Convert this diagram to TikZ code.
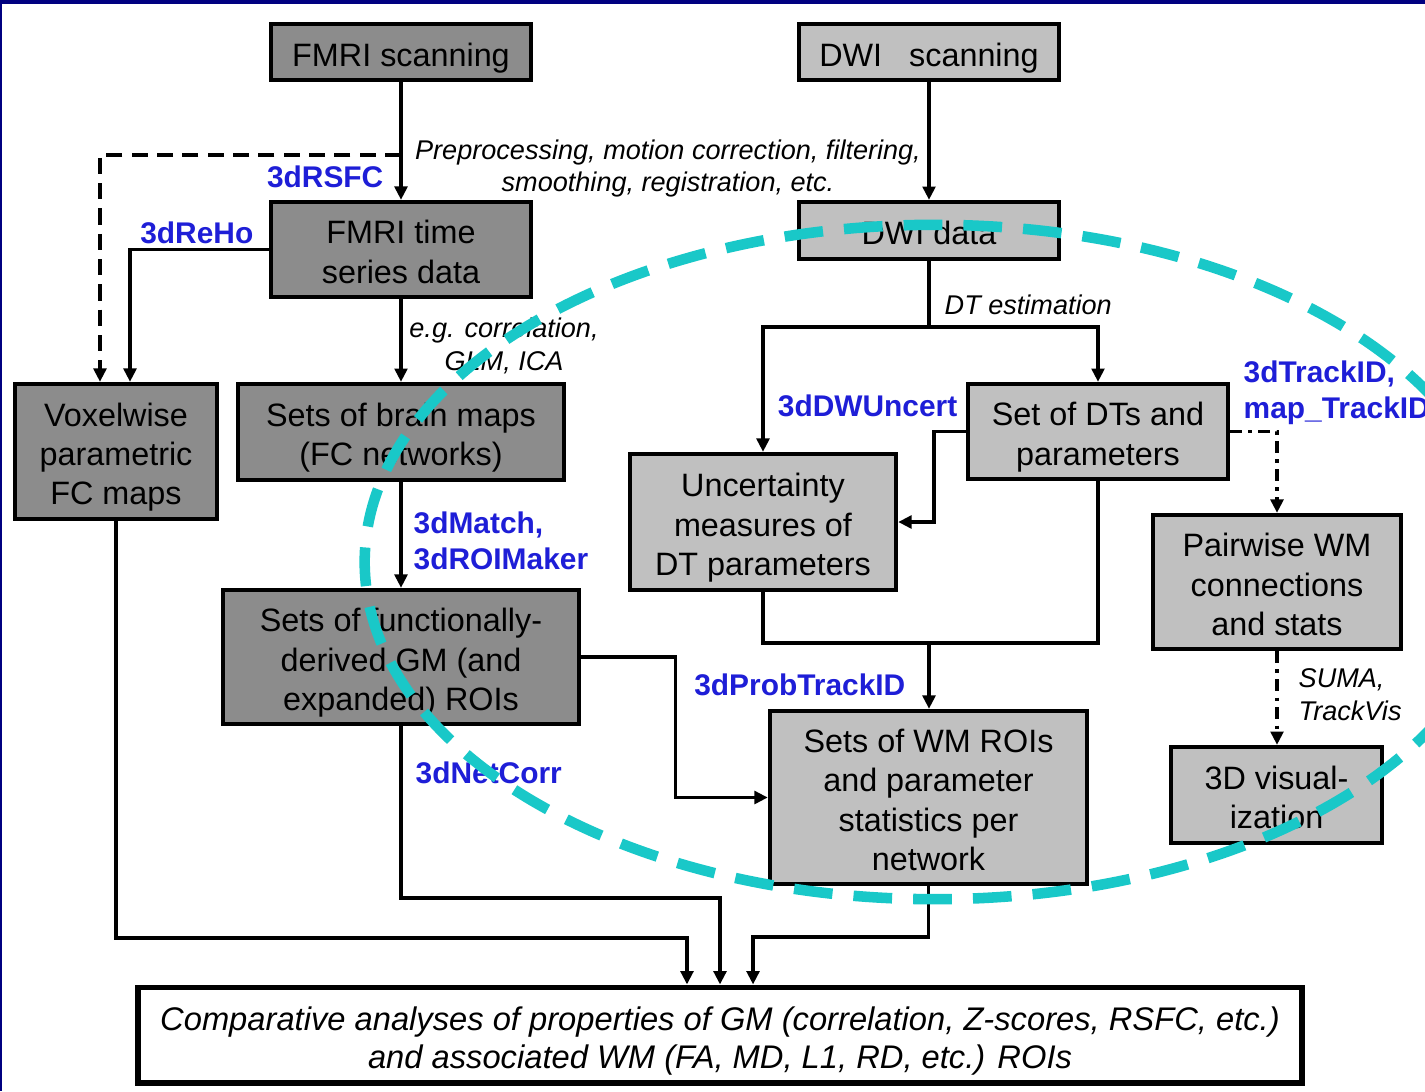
\documentclass[tikz,border=0pt]{standalone}
\usepackage{fontspec}
\setmainfont{Liberation Sans}
\usetikzlibrary{arrows.meta,positioning,calc}

\definecolor{fmrigray}{RGB}{140,140,140}
\definecolor{dwigray}{RGB}{192,192,192}
\definecolor{toolblue}{RGB}{30,30,215}
\definecolor{ellcyan}{RGB}{25,200,200}
\definecolor{framenavy}{RGB}{0,0,128}

\begin{document}
\begin{tikzpicture}[
  x=0.01cm, y=-0.01cm,
  font=\fontsize{9.2}{11.1}\selectfont,
  boxtext/.style={inner sep=0pt, align=center, text depth=0pt,
    execute at begin node={\lower1.3pt\hbox\bgroup},
    execute at end node={\egroup}},
  fbox/.style={draw, line width=1.2pt, fill=fmrigray, boxtext},
  dbox/.style={draw, line width=1.2pt, fill=dwigray, boxtext},
  arr/.style={-{Triangle[length=3.8pt,width=3.6pt]}, line width=0.95pt},
  ln/.style={line width=0.95pt},
  dashline/.style={dash pattern=on 4.6pt off 2.6pt},
  dashdot/.style={dash pattern=on 3.4pt off 1.8pt on 1pt off 1.8pt},
  tool/.style={text=toolblue, font=\fontsize{8.5}{10.2}\selectfont\bfseries, inner sep=0pt, align=left},
  note/.style={font=\fontsize{7.7}{9.2}\selectfont\itshape, inner sep=0pt, align=center}
]
\useasboundingbox (0,0) rectangle (1425,1091);
\fill[white] (0,0) rectangle (1425,1091);
\fill[framenavy] (0,0) rectangle (1425,4);
\fill[framenavy] (0,0) rectangle (2,1091);

% FMRI side
\node[fbox, minimum width=2.6cm, minimum height=0.56cm] (fmriscan) at (401,52) {FMRI scanning};
\node[fbox, minimum width=2.6cm, minimum height=0.95cm] (fmrits) at (401,249.5) {FMRI time\\series data};
\node[fbox, minimum width=2.02cm, minimum height=1.35cm] (voxel) at (116,451.5) {Voxelwise\\parametric\\FC maps};
\node[fbox, minimum width=3.26cm, minimum height=0.96cm] (brainmaps) at (401,432) {Sets of brain maps\\(FC networks)};
\node[fbox, minimum width=3.56cm, minimum height=1.34cm] (gmrois) at (401,657) {Sets of functionally-\\derived GM (and\\expanded) ROIs};

% DWI side
\node[dbox, minimum width=2.6cm, minimum height=0.56cm] (dwiscan) at (929,52) {DWI~~~scanning};
\node[dbox, minimum width=2.6cm, minimum height=0.57cm] (dwidata) at (929,230.5) {DWI data};
\node[dbox, minimum width=2.6cm, minimum height=0.95cm] (dts) at (1098,431.5) {Set of DTs and\\parameters};
\node[dbox, minimum width=2.66cm, minimum height=1.36cm] (uncert) at (763,522) {Uncertainty\\measures of\\DT parameters};
\node[dbox, minimum width=2.48cm, minimum height=1.34cm] (pairwise) at (1277,582) {Pairwise WM\\connections\\and stats};
\node[dbox, minimum width=3.17cm, minimum height=1.73cm] (wmrois) at (928.5,797.5) {Sets of WM ROIs\\and parameter\\statistics per\\network};
\node[dbox, minimum width=2.11cm, minimum height=0.96cm] (vis3d) at (1276.5,795) {3D visual-\\ization};

% final analysis
\node[draw, line width=1.7pt, fill=white, boxtext,
  minimum width=11.63cm, minimum height=0.95cm,
  font=\fontsize{9.3}{10.8}\selectfont\itshape] (compare) at (720,1035)
  {Comparative analyses of properties of GM (correlation, Z-scores, RSFC, etc.)\\and associated WM (FA, MD, L1, RD, etc.) ROIs};

% labels
\node[tool, anchor=east] (rsfc) at (384,177) {3dRSFC};
\node[tool, anchor=east] (reho) at (254,233) {3dReHo};
\node[note] (prep) at (668,168.5) {Preprocessing, motion correction, filtering,\\smoothing, registration, etc.};
\node[note] (corr) at (504,346) {e.g. correlation,\\GLM, ICA};
\node[tool, anchor=west] (match) at (413,540.5) {3dMatch,\\3dROIMaker};
\node[note, anchor=west] (dtest) at (944,305) {DT estimation};
\node[tool, anchor=east] (dwunc) at (958,406) {3dDWUncert};
\node[tool, anchor=west] (track) at (1243,392.5) {3dTrackID,\\map\_TrackID};
\node[tool, anchor=east] (prob) at (906,685) {3dProbTrackID};
\node[note, anchor=west, align=left] (suma) at (1298,694.5) {SUMA,\\TrackVis};
\node[tool, anchor=west] (netcorr) at (415,773) {3dNetCorr};

% FMRI connections
\coordinate (rsfcpt) at (401,155);
\draw[arr] (fmriscan) -- (fmrits);
\draw[arr, dashline] (rsfcpt) -| ([xshift=-0.16cm]voxel.north);
\draw[arr] (fmrits.west) -| ([xshift=0.14cm]voxel.north);
\draw[arr] (fmrits) -- (brainmaps);
\draw[arr] (brainmaps) -- (gmrois);
\draw[arr] (gmrois.east) -- ++(94,0) |- (wmrois.west);

% DWI connections
\coordinate (dtsplit) at (929,327);
\coordinate (probjoin) at (929,643);
\draw[arr] (dwiscan) -- (dwidata);
\draw[arr] (dwidata.south) -- (dtsplit) -| (uncert.north);
\draw[arr] (dtsplit) -| (dts.north);
\draw[arr] (dts.west) -- ++(-32,0) |- (uncert.east);
\draw[ln] (uncert.south) |- (dts.south |- probjoin) -- (dts.south);
\draw[arr] (probjoin) -- (probjoin |- wmrois.north);
\draw[arr, dashdot] (dts.east) -| (pairwise.north);
\draw[arr, dashdot] (pairwise.south) -- (pairwise.south |- vis3d.north);

% into the comparison
\draw[arr] (voxel.south) -- (116,938) -| ([xshift=-0.33cm]compare.north);
\draw[arr] (gmrois.south) -- (401,898) -| (compare.north);
\draw[arr] (wmrois.south) -- (928.5,937) -| ([xshift=0.33cm]compare.north);

% highlighted region
\draw[ellcyan, line width=3pt, dash pattern=on 11pt off 6pt] (935,562) ellipse [x radius=5.7cm, y radius=3.37cm];
\end{tikzpicture}
\end{document}
